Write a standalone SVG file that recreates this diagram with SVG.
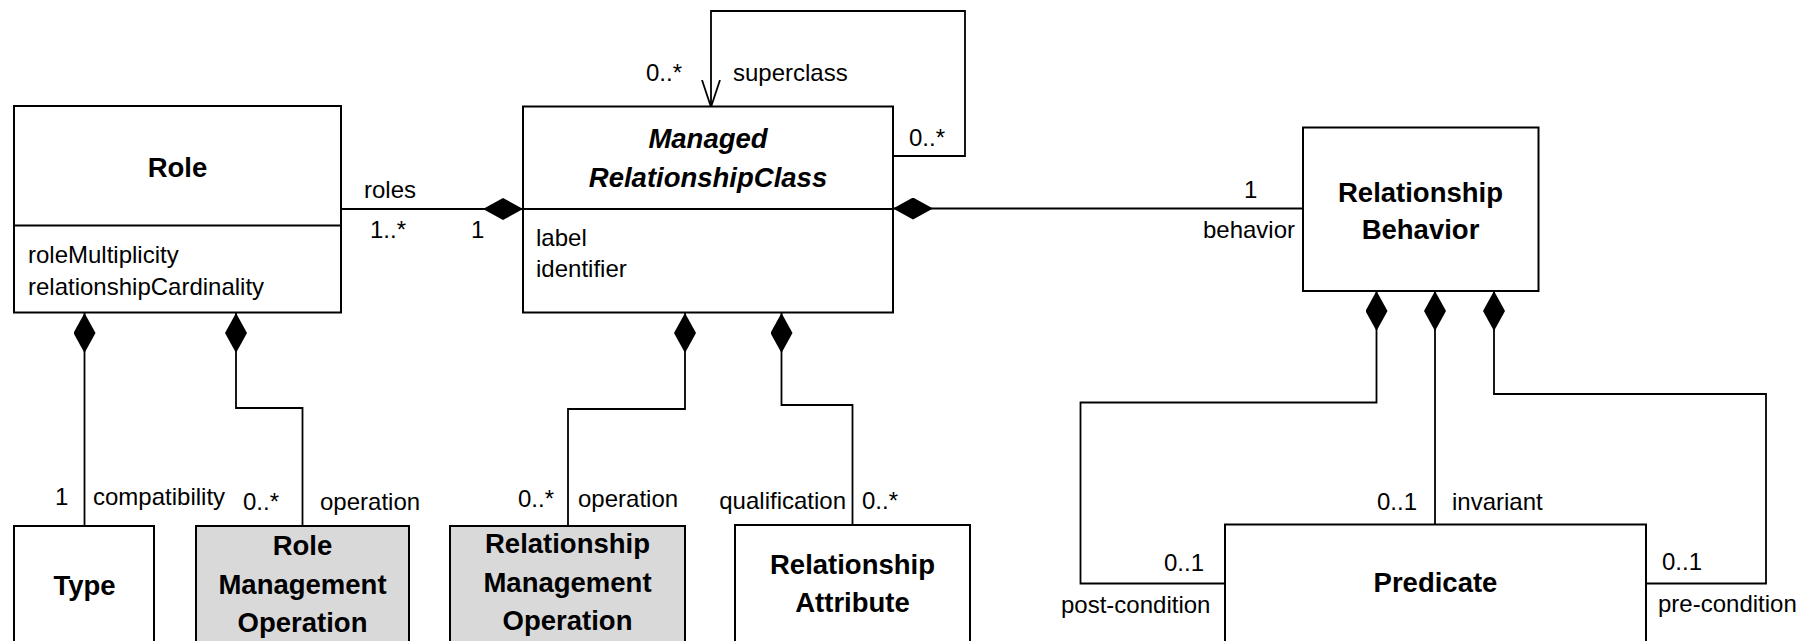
<svg xmlns="http://www.w3.org/2000/svg" width="1816" height="641" viewBox="0 0 1816 641">
  <style>
    .box { fill: #ffffff; stroke: #000000; stroke-width: 2; }
    .op { fill: #d9d9d9; }
    .div { stroke: #000000; stroke-width: 2; fill: none; }
    .title { font-family: "Liberation Sans", Arial, sans-serif; font-size: 27.5px; font-weight: bold; fill: #000000; text-anchor: middle; }
    .abstract { font-style: italic; }
    .attr, .lbl { font-family: "Liberation Sans", Arial, sans-serif; font-size: 24px; fill: #000000; }
    .end { text-anchor: end; }
    .wire { fill: none; stroke: #000000; stroke-width: 1.8; }
  </style>
  <defs>
    <!-- filled diamond: composition end, placed at the path start -->
    <marker id="composite" viewBox="0 0 40 22" refX="0" refY="11" markerWidth="40" markerHeight="22" markerUnits="userSpaceOnUse" orient="auto">
      <path d="M0,11 L20,0 L40,11 L20,22 Z" fill="#000000"/>
    </marker>
    <!-- open navigable arrowhead -->
    <marker id="open" viewBox="0 0 28 20" refX="27" refY="10" markerWidth="28" markerHeight="20" markerUnits="userSpaceOnUse" orient="auto">
      <path d="M0,1 L27,10 L0,19" fill="none" stroke="#000000" stroke-width="1.8"/>
    </marker>
  </defs>

  <!-- connectors -->
  <g id="connectors">
    <path class="wire" d="M523,209 H341" marker-start="url(#composite)"/>
    <path class="wire" d="M893,156 H965 V11 H711 V107" marker-end="url(#open)"/>
    <path class="wire" d="M893,208.5 H1303" marker-start="url(#composite)"/>
    <path class="wire" d="M84.5,313 V526" marker-start="url(#composite)"/>
    <path class="wire" d="M236,313 V408 H302.5 V526" marker-start="url(#composite)"/>
    <path class="wire" d="M685,313 V409 H568 V526" marker-start="url(#composite)"/>
    <path class="wire" d="M781.5,313 V405 H852.5 V525" marker-start="url(#composite)"/>
    <path class="wire" d="M1376.5,291 V402.5 H1080.5 V583.5 H1225" marker-start="url(#composite)"/>
    <path class="wire" d="M1435,291 V524.5" marker-start="url(#composite)"/>
    <path class="wire" d="M1494,291 V394 H1766 V583.5 H1646" marker-start="url(#composite)"/>

    <text class="lbl" x="364" y="198">roles</text>
    <text class="lbl" x="370" y="238">1..*</text>
    <text class="lbl" x="471" y="238">1</text>
    <text class="lbl" x="646" y="81">0..*</text>
    <text class="lbl" x="733" y="81">superclass</text>
    <text class="lbl" x="909" y="146">0..*</text>
    <text class="lbl" x="1244" y="198">1</text>
    <text class="lbl end" x="1295" y="238">behavior</text>
    <text class="lbl" x="55" y="505">1</text>
    <text class="lbl" x="93" y="505">compatibility</text>
    <text class="lbl" x="243" y="510">0..*</text>
    <text class="lbl" x="320" y="510">operation</text>
    <text class="lbl" x="518" y="507">0..*</text>
    <text class="lbl" x="578" y="507">operation</text>
    <text class="lbl end" x="846" y="509">qualification</text>
    <text class="lbl" x="862" y="509">0..*</text>
    <text class="lbl" x="1164" y="571">0..1</text>
    <text class="lbl" x="1061" y="613">post-condition</text>
    <text class="lbl" x="1377" y="510">0..1</text>
    <text class="lbl" x="1452" y="510">invariant</text>
    <text class="lbl" x="1662" y="570">0..1</text>
    <text class="lbl" x="1658" y="612">pre-condition</text>
  </g>

  <!-- classes -->
  <g id="role">
    <rect class="box" x="14" y="106" width="327" height="206.5"/>
    <line class="div" x1="14" y1="225.5" x2="341" y2="225.5"/>
    <text class="title" x="177.5" y="177">Role</text>
    <text class="attr" x="28" y="263">roleMultiplicity</text>
    <text class="attr" x="28" y="295">relationshipCardinality</text>
  </g>

  <g id="managed-relationship-class">
    <rect class="box" x="523" y="106.5" width="370" height="206"/>
    <line class="div" x1="523" y1="209" x2="893" y2="209"/>
    <text class="title abstract" x="708" y="148">Managed</text>
    <text class="title abstract" x="708" y="187">RelationshipClass</text>
    <text class="attr" x="536" y="246">label</text>
    <text class="attr" x="536" y="277">identifier</text>
  </g>

  <g id="relationship-behavior">
    <rect class="box" x="1303" y="127.5" width="235.5" height="163.5"/>
    <text class="title" x="1420.5" y="201.5">Relationship</text>
    <text class="title" x="1420.5" y="238.5">Behavior</text>
  </g>

  <g id="type">
    <rect class="box" x="14" y="526" width="140" height="140"/>
    <text class="title" x="84.5" y="595">Type</text>
  </g>

  <g id="role-management-operation">
    <rect class="box op" x="196" y="526" width="213" height="140"/>
    <text class="title" x="302.5" y="555">Role</text>
    <text class="title" x="302.5" y="593.5">Management</text>
    <text class="title" x="302.5" y="631.5">Operation</text>
  </g>

  <g id="relationship-management-operation">
    <rect class="box op" x="450" y="526" width="235" height="140"/>
    <text class="title" x="567.5" y="553">Relationship</text>
    <text class="title" x="567.5" y="591.5">Management</text>
    <text class="title" x="567.5" y="630">Operation</text>
  </g>

  <g id="relationship-attribute">
    <rect class="box" x="735" y="525" width="235" height="140"/>
    <text class="title" x="852.5" y="573.5">Relationship</text>
    <text class="title" x="852.5" y="611.5">Attribute</text>
  </g>

  <g id="predicate">
    <rect class="box" x="1225" y="524.5" width="421" height="140"/>
    <text class="title" x="1435.5" y="591.5">Predicate</text>
  </g>
</svg>
